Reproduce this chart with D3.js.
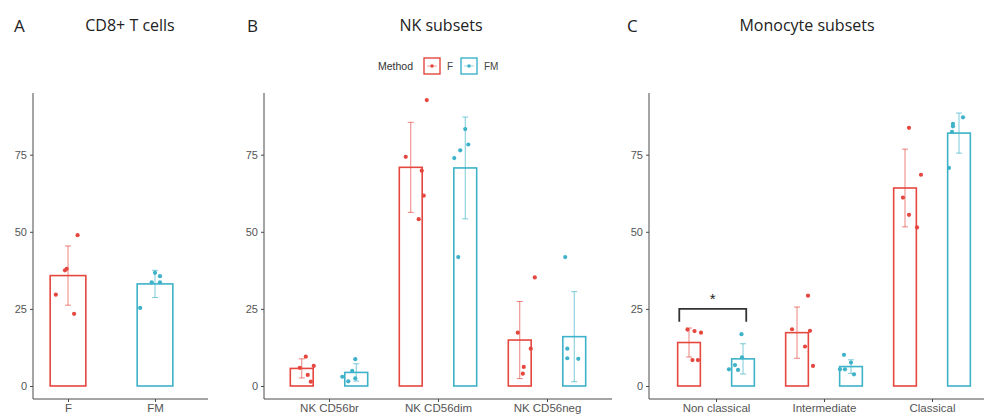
<!DOCTYPE html>
<html><head><meta charset="utf-8">
<script src="https://cdn.jsdelivr.net/npm/d3@7"></script>
<style>body{margin:0;background:#fff}svg{display:block}</style>
</head><body>
<svg id="c" width="984" height="417"></svg>
<script>
// ---------- DATA ----------
const methods = ["F", "FM"];
const yTicks = [0, 25, 50, 75];

// Panel A: CD8+ T cells
const catsA = ["F", "FM"];
const meanA = [35.8, 33.1];
const sdA = [9.6, 4.4];
const ptsA = [[48.9, 38.0, 37.5, 29.6, 23.4], [36.7, 35.6, 33.6, 33.6, 25.3]];
const jitA = [[0.11, -0.015, -0.035, -0.14, 0.07], [0, 0.057, -0.038, 0.057, -0.17]];

// Panel B: NK subsets
const catsB = ["NK CD56br", "NK CD56dim", "NK CD56neg"];
const meanB_F = [5.7, 70.9, 14.9];
const meanB_FM = [4.4, 70.7, 16.0];
const sdB_F = [3.1, 14.6, 12.5];
const sdB_FM = [2.8, 16.5, 14.6];
const ptsB_F = [[9.5, 6.5, 5.9, 3.6, 1.4], [92.7, 74.3, 69.8, 61.7, 54.1], [35.2, 17.3, 12.1, 6.2, 4.0]];
const ptsB_FM = [[8.7, 4.9, 3.0, 2.5, 1.5], [83.3, 78.3, 76.4, 73.9, 41.8], [41.8, 12.1, 9.0, 8.8]];
const jitB_F = [[0.037, 0.11, -0.018, 0.055, 0.083], [0.147, -0.046, 0.101, 0.119, 0.073], [0.138, -0.018, 0.101, 0.037, 0.028]];
const jitB_FM = [[-0.009, -0.037, -0.128, -0.009, -0.073], [0, 0.028, -0.046, -0.101, -0.064], [-0.083, -0.064, -0.064, 0.037]];

// Panel C: Monocyte subsets
const catsC = ["Non classical", "Intermediate", "Classical"];
const meanC_F = [14.1, 17.3, 64.2];
const meanC_FM = [8.8, 6.3, 82.0];
const sdC_F = [4.7, 8.3, 12.6];
const sdC_FM = [4.9, 2.2, 6.5];
const ptsC_F = [[18.3, 17.8, 17.3, 8.4, 8.4], [29.3, 18.4, 17.9, 12.8, 6.5], [83.7, 68.5, 61.1, 55.5, 51.4]];
const ptsC_FM = [[16.8, 9.3, 6.8, 5.4, 5.2], [10.1, 7.6, 5.4, 5.4, 3.8], [87.1, 85.0, 84.2, 82.4, 70.7]];
const jitC_F = [[-0.014, 0.051, 0.111, 0.032, 0.083], [0.102, -0.046, 0.12, 0.074, 0.148], [0.037, 0.148, -0.019, 0.037, 0.111]];
const jitC_FM = [[-0.014, -0.009, -0.074, -0.13, -0.046], [-0.065, 0, -0.102, -0.056, 0.028], [0.037, -0.056, -0.056, -0.065, -0.093]];

const titles = ["CD8+ T cells", "NK subsets", "Monocyte subsets"];
const panelLetters = ["A", "B", "C"];
const sigLabel = "*";
const sigPair = { cat: 0, top: 25, bottom: 20.8 };

// ---------- DRAW ----------
const svg = d3.select("#c");
const color = d3.scaleOrdinal().domain(methods).range(["#E5473F", "#3DB2C8"]);
const y = d3.scaleLinear().domain([0, 95]).range([386, 93]);
const axisCol = "#4a4a4a", tickTextCol = "#555";
const tickFont = "'Liberation Sans', Arial, sans-serif";
const titleFont = "'Open Sans', 'Noto Sans', sans-serif";

function panel(cfg) {
  const g = svg.append("g");
  const x = d3.scaleLinear().domain([1, cfg.cats.length]).range(cfg.catRange);
  const step = (cfg.catRange[1] - cfg.catRange[0]) / (cfg.cats.length - 1);
  // y axis
  const ya = g.append("g").attr("transform", `translate(${cfg.axisX},0)`)
    .call(d3.axisLeft(y).tickValues(yTicks).tickSize(3).tickPadding(3));
  ya.select(".domain").remove();
  ya.append("line").attr("x1", 0).attr("x2", 0).attr("y1", 93).attr("y2", 399).attr("stroke", axisCol);
  ya.selectAll(".tick line").attr("stroke", axisCol);
  ya.selectAll(".tick text").attr("fill", tickTextCol).style("font-family", tickFont).style("font-size", "11px");
  // x axis
  const xa = g.append("g").attr("transform", "translate(0,399)")
    .call(d3.axisBottom(x).tickValues(d3.range(1, cfg.cats.length + 1)).tickFormat((d, i) => cfg.cats[i]).tickSize(3).tickPadding(2));
  xa.select(".domain").remove();
  xa.append("line").attr("x1", cfg.axisX).attr("x2", cfg.axisEnd).attr("y1", 0).attr("y2", 0).attr("stroke", axisCol);
  xa.selectAll(".tick line").attr("stroke", axisCol);
  xa.selectAll(".tick text").attr("fill", tickTextCol).style("font-family", tickFont).style("font-size", "11.5px");

  // series
  cfg.series.forEach(s => {
    const col = color(s.method);
    s.mean.forEach((m, j) => {
      const ci = s.idx ? s.idx[j] : j;
      const cx = x(ci + 1) + s.dodge * step;
      const bw = cfg.barW * step;
      g.append("rect").attr("x", cx - bw / 2).attr("y", y(m)).attr("width", bw).attr("height", y(0) - y(m))
        .attr("fill", "none").attr("stroke", col).attr("stroke-width", 1.6);
      const hi = y(m + s.sd[j]), lo = y(Math.max(0, m - s.sd[j]));
      g.append("line").attr("x1", cx).attr("x2", cx).attr("y1", hi).attr("y2", lo)
        .attr("stroke", col).attr("stroke-width", 0.9).attr("opacity", 0.75);
      [hi, lo].forEach(yy => g.append("line").attr("x1", cx - 3).attr("x2", cx + 3).attr("y1", yy).attr("y2", yy)
        .attr("stroke", col).attr("stroke-width", 0.9).attr("opacity", 0.75));
      s.pts[j].forEach((v, k) => {
        g.append("circle").attr("cx", cx + s.jit[j][k] * step).attr("cy", y(v)).attr("r", 2.1).attr("fill", col);
      });
    });
  });
  // title + letter
  svg.append("text").attr("x", cfg.titleX).attr("y", 31).attr("text-anchor", "middle")
    .style("font-family", titleFont).style("font-size", "16px").attr("fill", "#222").text(cfg.title);
  svg.append("text").attr("x", cfg.letterX).attr("y", 32)
    .style("font-family", titleFont).style("font-size", "17px").attr("fill", "#222").text(cfg.letter);
  return { x, step };
}

panel({
  cats: catsA, catRange: [68, 155], axisX: 33, axisEnd: 208, barW: 0.41,
  series: [
    { method: "F", idx: [0], mean: [meanA[0]], sd: [sdA[0]], pts: [ptsA[0]], jit: [jitA[0]], dodge: 0 },
    { method: "FM", idx: [1], mean: [meanA[1]], sd: [sdA[1]], pts: [ptsA[1]], jit: [jitA[1]], dodge: 0 }
  ],
  title: titles[0], titleX: 130, letter: panelLetters[0], letterX: 14
});

panel({
  cats: catsB, catRange: [329, 547], axisX: 264, axisEnd: 612, barW: 0.21,
  series: [
    { method: "F", mean: meanB_F, sd: sdB_F, pts: ptsB_F, jit: jitB_F, dodge: -0.25 },
    { method: "FM", mean: meanB_FM, sd: sdB_FM, pts: ptsB_FM, jit: jitB_FM, dodge: 0.25 }
  ],
  title: titles[1], titleX: 441, letter: panelLetters[1], letterX: 247
});

const pC = panel({
  cats: catsC, catRange: [716, 932], axisX: 649, axisEnd: 984, barW: 0.21,
  series: [
    { method: "F", mean: meanC_F, sd: sdC_F, pts: ptsC_F, jit: jitC_F, dodge: -0.25 },
    { method: "FM", mean: meanC_FM, sd: sdC_FM, pts: ptsC_FM, jit: jitC_FM, dodge: 0.25 }
  ],
  title: titles[2], titleX: 807, letter: panelLetters[2], letterX: 627
});

// significance bracket (Non classical F vs FM)
(function () {
  const c = pC.x(sigPair.cat + 1);
  const x1 = c - 0.34 * pC.step, x2 = c + 0.28 * pC.step;
  const yt = y(sigPair.top), yb = y(sigPair.bottom);
  svg.append("path").attr("d", `M${x1},${yb}V${yt}H${x2}V${yb}`).attr("fill", "none").attr("stroke", "#333").attr("stroke-width", 1.8);
  svg.append("text").attr("x", (x1 + x2) / 2).attr("y", yt - 5).attr("text-anchor", "middle")
    .style("font-family", tickFont).style("font-size", "15px").attr("fill", "#222").text(sigLabel);
})();

// legend
(function () {
  const lg = svg.append("g");
  lg.append("text").attr("x", 378).attr("y", 70).style("font-family", tickFont).style("font-size", "10.5px").attr("fill", "#333").text("Method");
  const pos = [424, 461];
  methods.forEach((m, i) => {
    const col = color(m), x0 = pos[i];
    lg.append("rect").attr("x", x0).attr("y", 58).attr("width", 16).attr("height", 16).attr("fill", "#fff").attr("stroke", col).attr("stroke-width", 1.4);
    lg.append("line").attr("x1", x0 + 3).attr("x2", x0 + 13).attr("y1", 66).attr("y2", 66).attr("stroke", col).attr("stroke-width", 0.8).attr("opacity", 0.6);
    lg.append("circle").attr("cx", x0 + 8).attr("cy", 66).attr("r", 1.8).attr("fill", col);
    lg.append("text").attr("x", x0 + 23).attr("y", 70).style("font-family", tickFont).style("font-size", "10px").attr("fill", "#444").text(m);
  });
})();
</script>
</body></html>
